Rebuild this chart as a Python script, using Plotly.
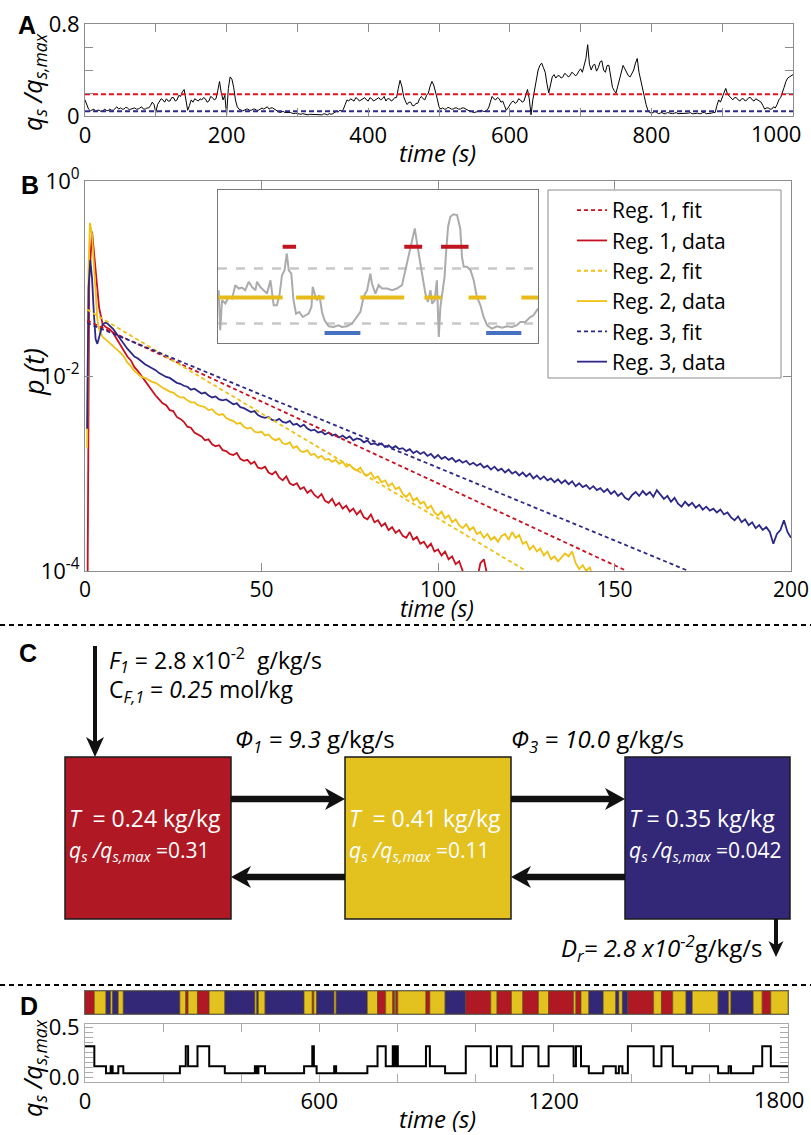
import plotly.graph_objects as go

W, H = 811, 1135
FONT = "Open Sans"

# ---------------- Panel A : q_s/q_s,max time series (2.5 s samples) ----------------
a_dt = 2.5
a_qs = [
    0.14, 0.10, 0.06, 0.045, 0.05, 0.06, 0.04, 0.05, 0.05, 0.04, 0.04, 0.06, 0.05, 0.045, 0.06, 0.05, 0.05, 0.07, 0.08, 0.06,
    0.07, 0.06, 0.06, 0.075, 0.07, 0.055, 0.06, 0.07, 0.07, 0.06, 0.06, 0.07, 0.08, 0.06, 0.06, 0.07, 0.07, 0.09, 0.12, 0.10,
    0.03, 0.10, 0.13, 0.15, 0.14, 0.12, 0.15, 0.13, 0.13, 0.16, 0.16, 0.13, 0.14, 0.18, 0.17, 0.21, 0.23, 0.12, 0.05, 0.09,
    0.14, 0.12, 0.15, 0.14, 0.13, 0.15, 0.14, 0.16, 0.15, 0.12, 0.13, 0.17, 0.16, 0.14, 0.15, 0.22, 0.30, 0.20, 0.14, 0.18,
    0.01, 0.24, 0.34, 0.32, 0.25, 0.14, 0.08, 0.06, 0.05, 0.045, 0.05, 0.06, 0.06, 0.05, 0.05, 0.06, 0.06, 0.05, 0.05, 0.06,
    0.07, 0.06, 0.07, 0.08, 0.06, 0.07, 0.07, 0.06, 0.05, 0.04, 0.03, 0.035, 0.04, 0.03, 0.03, 0.035, 0.03, 0.025, 0.02, 0.025,
    0.02, 0.015, 0.015, 0.02, 0.015, 0.01, 0.01, 0.015, 0.015, 0.01, 0.01, 0.015, 0.015, 0.01, 0.01, 0.02, 0.015, 0.01, 0.02, 0.015,
    0.02, 0.03, 0.04, 0.035, 0.05, 0.04, 0.06, 0.10, 0.14, 0.13, 0.15, 0.14, 0.13, 0.16, 0.15, 0.13, 0.14, 0.15, 0.16, 0.14,
    0.13, 0.16, 0.15, 0.13, 0.14, 0.15, 0.16, 0.14, 0.15, 0.17, 0.13, 0.15, 0.15, 0.13, 0.14, 0.16, 0.16, 0.24, 0.31, 0.26,
    0.17, 0.13, 0.10, 0.12, 0.12, 0.09, 0.09, 0.11, 0.11, 0.15, 0.17, 0.15, 0.14, 0.18, 0.20, 0.26, 0.30, 0.27, 0.22, 0.15,
    0.08, 0.06, 0.07, 0.06, 0.06, 0.075, 0.07, 0.06, 0.06, 0.07, 0.07, 0.06, 0.06, 0.07, 0.07, 0.06, 0.05, 0.045, 0.04, 0.035,
    0.03, 0.035, 0.04, 0.05, 0.05, 0.04, 0.04, 0.05, 0.07, 0.12, 0.17, 0.15, 0.14, 0.16, 0.15, 0.12, 0.13, 0.09, 0.05, 0.07,
    0.10, 0.12, 0.13, 0.11, 0.12, 0.15, 0.14, 0.12, 0.13, 0.18, 0.23, 0.15, 0.01, 0.14, 0.22, 0.32, 0.40, 0.44, 0.46, 0.42,
    0.38, 0.28, 0.20, 0.27, 0.34, 0.36, 0.33, 0.35, 0.35, 0.33, 0.34, 0.37, 0.36, 0.34, 0.35, 0.38, 0.37, 0.35, 0.36, 0.39,
    0.41, 0.38, 0.43, 0.50, 0.62, 0.45, 0.40, 0.44, 0.45, 0.39, 0.42, 0.47, 0.48, 0.40, 0.38, 0.44, 0.44, 0.33, 0.25, 0.22,
    0.20, 0.26, 0.32, 0.40, 0.44, 0.41, 0.38, 0.35, 0.34, 0.37, 0.40, 0.46, 0.50, 0.38, 0.30, 0.24, 0.17, 0.10, 0.05, 0.03,
    0.025, 0.03, 0.04, 0.03, 0.02, 0.025, 0.03, 0.02, 0.02, 0.03, 0.025, 0.02, 0.02, 0.025, 0.03, 0.02, 0.02, 0.025, 0.025, 0.02,
    0.02, 0.025, 0.03, 0.02, 0.02, 0.025, 0.025, 0.02, 0.02, 0.03, 0.03, 0.02, 0.02, 0.025, 0.025, 0.03, 0.03, 0.09, 0.14, 0.12,
    0.16, 0.20, 0.24, 0.19, 0.17, 0.15, 0.14, 0.16, 0.16, 0.14, 0.13, 0.15, 0.15, 0.13, 0.14, 0.16, 0.16, 0.14, 0.13, 0.15,
    0.14, 0.13, 0.12, 0.09, 0.06, 0.07, 0.07, 0.06, 0.06, 0.08, 0.07, 0.10, 0.14, 0.16, 0.20, 0.25, 0.30, 0.33, 0.34, 0.35,
    0.36,
]
a_time = [k * a_dt for k in range(len(a_qs))]
a_threshold_reg1 = 0.19
a_threshold_reg3 = 0.042

# ---------------- Panel B : residence time distributions ----------------
reg_names = ["Reg. 1", "Reg. 2", "Reg. 3"]
b_reg1_t = [0.6, 1.2, 2.0, 2.6, 3.2, 4.0, 5, 6, 7, 8, 9, 10] + list(range(11, 116))
b_reg1_logp = [
    -5.0, -1.0, -0.52, -0.75, -1.05, -1.30, -1.47, -1.50, -1.52, -1.56, -1.62, -1.68,
    -1.74, -1.80, -1.84, -1.91, -1.95, -2.00, -2.06, -2.10, -2.15, -2.20,
    -2.24, -2.28, -2.30, -2.35, -2.36, -2.42, -2.44, -2.47, -2.52, -2.53,
    -2.58, -2.60, -2.62, -2.66, -2.65, -2.70, -2.72, -2.71, -2.76, -2.77,
    -2.80, -2.81, -2.79, -2.85, -2.87, -2.86, -2.90, -2.88, -2.94, -2.95,
    -2.93, -2.99, -3.01, -2.98, -3.04, -3.07, -3.03, -3.10, -3.12, -3.10,
    -3.16, -3.14, -3.20, -3.17, -3.22, -3.25, -3.21, -3.28, -3.30, -3.26,
    -3.33, -3.30, -3.36, -3.33, -3.39, -3.36, -3.42, -3.38, -3.45, -3.47,
    -3.42, -3.50, -3.48, -3.54, -3.51, -3.58, -3.55, -3.61, -3.58, -3.64,
    -3.66, -3.60, -3.68, -3.65, -3.72, -3.70, -3.76, -3.72, -3.80, -3.78,
    -3.84, -3.80, -3.88, -3.85, -3.93, -3.90, -3.99, -4.10, -4.30, -4.20,
    -4.10, -3.92, -3.88, -4.05, -4.30,
]
b_reg2_t = [0.6, 1.0, 1.4, 2.0, 2.5, 3.0, 3.5, 4, 5, 6, 7, 8, 9, 10] + list(range(11, 146))
b_reg2_logp = [
    -2.74, -0.9, -0.43, -0.55, -0.85, -1.2, -1.42, -1.52, -1.60, -1.63, -1.66, -1.69, -1.72, -1.76,
    -1.80, -1.86, -1.90, -1.95, -1.98, -2.01, -2.02, -2.04, -2.06, -2.07,
    -2.10, -2.12, -2.14, -2.16, -2.17, -2.20, -2.22, -2.22, -2.25, -2.27,
    -2.27, -2.30, -2.31, -2.32, -2.35, -2.34, -2.38, -2.40, -2.39, -2.43,
    -2.45, -2.46, -2.49, -2.48, -2.52, -2.54, -2.53, -2.57, -2.58, -2.57,
    -2.61, -2.60, -2.64, -2.66, -2.64, -2.69, -2.70, -2.68, -2.74, -2.72,
    -2.77, -2.78, -2.76, -2.81, -2.80, -2.84, -2.82, -2.86, -2.85, -2.88,
    -2.86, -2.90, -2.88, -2.93, -2.91, -2.95, -2.97, -2.94, -3.00, -3.02,
    -2.99, -3.05, -3.03, -3.09, -3.07, -3.13, -3.10, -3.16, -3.14, -3.21,
    -3.24, -3.20, -3.28, -3.25, -3.31, -3.29, -3.36, -3.33, -3.40, -3.43,
    -3.39, -3.46, -3.43, -3.50, -3.47, -3.53, -3.56, -3.52, -3.58, -3.55,
    -3.62, -3.60, -3.66, -3.62, -3.68, -3.65, -3.70, -3.64, -3.62, -3.68,
    -3.60, -3.66, -3.63, -3.72, -3.70, -3.78, -3.74, -3.80, -3.77, -3.84,
    -3.80, -3.88, -3.85, -3.90, -3.86, -3.82, -3.85, -3.80, -3.92, -3.98,
    -3.94, -4.00, -3.96, -4.10, -4.30,
]
b_reg3_t = [0.6, 1.0, 1.5, 2.0, 2.5, 3.0, 3.5, 4.0, 4.5, 5, 6, 7, 8, 9, 10] + list(range(11, 201))
b_reg3_logp = [
    -2.54, -1.1, -0.81, -1.0, -1.35, -1.62, -1.67, -1.60, -1.52, -1.47, -1.45, -1.48, -1.52, -1.57, -1.62,
    -1.68, -1.72, -1.76, -1.80, -1.82, -1.85, -1.88, -1.90, -1.92, -1.94,
    -1.97, -1.99, -2.01, -2.02, -2.05, -2.07, -2.08, -2.10, -2.11, -2.14,
    -2.13, -2.16, -2.18, -2.17, -2.20, -2.22, -2.21, -2.24, -2.25, -2.24,
    -2.27, -2.29, -2.28, -2.32, -2.33, -2.35, -2.37, -2.36, -2.40, -2.42,
    -2.43, -2.42, -2.45, -2.46, -2.44, -2.47, -2.48, -2.46, -2.50, -2.49,
    -2.52, -2.50, -2.54, -2.56, -2.55, -2.58, -2.57, -2.60, -2.58, -2.61,
    -2.60, -2.63, -2.61, -2.64, -2.62, -2.66, -2.64, -2.65, -2.68, -2.66,
    -2.70, -2.69, -2.71, -2.69, -2.73, -2.71, -2.74, -2.72, -2.75, -2.74,
    -2.77, -2.75, -2.79, -2.77, -2.80, -2.78, -2.82, -2.80, -2.84, -2.81,
    -2.85, -2.83, -2.86, -2.84, -2.88, -2.86, -2.89, -2.87, -2.91, -2.89,
    -2.92, -2.90, -2.94, -2.92, -2.96, -2.93, -2.97, -2.95, -2.99, -2.96,
    -3.00, -2.98, -3.02, -2.99, -3.03, -3.00, -3.05, -3.02, -3.06, -3.03,
    -3.07, -3.05, -3.09, -3.06, -3.10, -3.07, -3.11, -3.08, -3.13, -3.10,
    -3.14, -3.12, -3.16, -3.13, -3.17, -3.15, -3.19, -3.16, -3.21, -3.18,
    -3.23, -3.20, -3.25, -3.27, -3.22, -3.19, -3.23, -3.18, -3.22, -3.19,
    -3.24, -3.17, -3.21, -3.26, -3.23, -3.29, -3.25, -3.31, -3.34, -3.29,
    -3.33, -3.30, -3.35, -3.32, -3.37, -3.34, -3.38, -3.36, -3.40, -3.37,
    -3.42, -3.40, -3.45, -3.48, -3.44, -3.50, -3.47, -3.53, -3.50, -3.56,
    -3.53, -3.58, -3.55, -3.60, -3.72, -3.62, -3.58, -3.48, -3.60, -3.66,
]
# exponential fits: straight lines on the log axis, given by their two end points
b_fit_t = [[0.6, 153.5], [0.6, 125.0], [0.6, 171.0]]
b_fit_p = [[0.037, 1e-4], [0.048, 1e-4], [0.035, 1e-4]]

# inset (excerpt of the q_s signal with regime assignment)
inset_x = [0.2, 0.7, 1.25, 2.3, 3.3, 4.4, 5.4, 6.5, 7.5, 8.5, 9.6, 10.6, 11.7, 12.2, 13.2, 14.3, 15.3,
           16.4, 17.4, 18.4, 19.2, 20.0, 20.8, 21.5, 22.1, 22.9, 23.6, 24.4, 25.4, 26.5, 27.3, 28.3,
           29.2, 29.6, 30.2, 30.9, 31.7, 32.5, 33.3, 34.6, 36.1, 37.7, 38.75, 40.3, 41.9, 43.4, 44.5,
           45.5, 46.6, 47.6, 48.1, 49.2, 50.2, 51.25, 52.8, 54.4, 55.9, 57.5, 58.5, 59.4, 60.1, 60.8,
           61.5, 62.2, 62.9, 63.75, 64.8, 65.6, 66.4, 66.9, 67.7, 68.4, 69.0, 69.5, 70.2, 70.8, 71.25,
           71.9, 72.6, 73.6, 74.7, 75.7, 76.25, 76.8, 77.8, 78.9, 79.9, 80.9, 82.0, 83.0, 84.1, 85.6,
           87.2, 88.75, 90.3, 91.9, 93.4, 94.5, 96.0, 97.6, 98.6, 100.0]
inset_y = [0.345, 0.083, 0.279, 0.258, 0.301, 0.290, 0.378, 0.356, 0.362, 0.345, 0.400, 0.367, 0.345,
           0.400, 0.367, 0.345, 0.323, 0.410, 0.247, 0.247, 0.312, 0.443, 0.476, 0.585, 0.476, 0.454,
           0.279, 0.192, 0.203, 0.170, 0.181, 0.192, 0.236, 0.367, 0.323, 0.279, 0.312, 0.203, 0.148,
           0.109, 0.105, 0.116, 0.105, 0.109, 0.127, 0.170, 0.203, 0.301, 0.345, 0.454, 0.389, 0.323,
           0.378, 0.356, 0.356, 0.345, 0.356, 0.378, 0.476, 0.563, 0.618, 0.683, 0.749, 0.651, 0.563,
           0.443, 0.323, 0.269, 0.345, 0.258, 0.279, 0.410, 0.039, 0.236, 0.345, 0.432, 0.585, 0.760,
           0.825, 0.841, 0.836, 0.749, 0.563, 0.498, 0.498, 0.476, 0.410, 0.301, 0.247, 0.170, 0.116,
           0.094, 0.109, 0.100, 0.109, 0.105, 0.116, 0.138, 0.138, 0.170, 0.181, 0.225]
inset_thresholds = [0.487, 0.127]
inset_level = [0.629, 0.297, 0.066]
inset_segments = [
    [[20.2, 24.4], [58.2, 63.8], [69.7, 78.3]],
    [[0.2, 20.2], [24.4, 33.3], [44.5, 58.2], [64.5, 69.8], [78.3, 83.8], [94.8, 100.0]],
    [[33.3, 44.5], [83.8, 94.8]],
]

# ---------------- Panel C : compartment model ----------------
c_T = ["0.24", "0.41", "0.35"]
c_qs = [0.31, 0.11, 0.042]
c_qs_txt = ["0.31", "0.11", "0.042"]
c_F1 = "2.8 x10<sup>-2</sup>"
c_CF1 = "0.25"
c_phi1 = "9.3"
c_phi3 = "10.0"
c_Dr = "2.8 x10<sup>-2</sup>"

# ---------------- Panel D : regime sequence ----------------
d_starts = [0, 23.9, 53.7, 65.7, 70.8, 85.3, 98.1, 243, 258, 264, 288, 318, 358, 435, 440, 444, 461,
            561, 582, 586, 593, 638, 643, 723, 749, 770, 788, 793, 796, 801, 873, 883, 922, 975, 1039,
            1055, 1092, 1121, 1161, 1187, 1251, 1257, 1270, 1290, 1327, 1359, 1367, 1376, 1390, 1456,
            1476, 1505, 1539, 1555, 1621, 1648, 1654, 1711, 1734, 1756]
d_regime = [1, 2, 3, 2, 3, 2, 3, 2, 1, 2, 1, 2, 3, 2, 3, 2, 3,
            2, 1, 2, 3, 2, 3, 2, 1, 2, 1, 2, 1, 2, 1, 2, 3, 1, 2,
            1, 2, 1, 2, 1, 2, 1, 2, 3, 2, 3, 2, 3, 1, 2,
            1, 2, 3, 2, 3, 2, 3, 2, 1, 2]
d_end = 1800

# ---------------- styling ----------------
line_col = ["#C8101E", "#F0C012", "#2C2888"]
box_col = ["#B01923", "#E3C11F", "#332878"]
inset_seg_col = ["#C0141E", "#E9BB1A", "#4670C0"]
AX = "#8c8c8c"


def X(px):
    return px / W


def Y(py):
    return 1 - py / H


fig = go.Figure()

# ---- A
fig.add_trace(go.Scatter(x=a_time, y=a_qs, mode="lines", line=dict(color="black", width=1),
                         xaxis="x", yaxis="y", showlegend=False, hoverinfo="skip"))
for thr, col in [(a_threshold_reg1, "#E8101C"), (a_threshold_reg3, "#2E2A8C")]:
    fig.add_trace(go.Scatter(x=[a_time[0], a_time[-1]], y=[thr, thr], mode="lines",
                             line=dict(color=col, width=2, dash="5px,3px"),
                             xaxis="x", yaxis="y", showlegend=False, hoverinfo="skip"))

# ---- B data + fits
b_data = [(b_reg1_t, b_reg1_logp), (b_reg2_t, b_reg2_logp), (b_reg3_t, b_reg3_logp)]
for i, (tt, lp) in enumerate(b_data):
    fig.add_trace(go.Scatter(x=tt, y=[10 ** v for v in lp], mode="lines",
                             line=dict(color=line_col[i], width=1.8),
                             name=f"{reg_names[i]}, data", legendgroup=f"d{i}", legendrank=2 * i + 2,
                             xaxis="x2", yaxis="y2", hoverinfo="skip"))
for i in range(3):
    fig.add_trace(go.Scatter(x=b_fit_t[i], y=b_fit_p[i], mode="lines",
                             line=dict(color=line_col[i], width=1.8, dash="4px,3px"),
                             name=f"{reg_names[i]}, fit", legendgroup=f"f{i}", legendrank=2 * i + 1,
                             xaxis="x2", yaxis="y2", hoverinfo="skip"))

# ---- inset
for thr in inset_thresholds:
    fig.add_trace(go.Scatter(x=[0, 100], y=[thr, thr], mode="lines",
                             line=dict(color="#c8c8c8", width=2.5, dash="9px,9px"),
                             xaxis="x3", yaxis="y3", showlegend=False, hoverinfo="skip"))
fig.add_trace(go.Scatter(x=inset_x, y=inset_y, mode="lines", line=dict(color="#ababab", width=2),
                         xaxis="x3", yaxis="y3", showlegend=False, hoverinfo="skip"))
for i in range(3):
    xs, ys = [], []
    for a, b in inset_segments[i]:
        xs += [a, b, None]
        ys += [inset_level[i], inset_level[i], None]
    fig.add_trace(go.Scatter(x=xs, y=ys, mode="lines", line=dict(color=inset_seg_col[i], width=4),
                             xaxis="x3", yaxis="y3", showlegend=False, hoverinfo="skip"))

# ---- D colour bar and step signal
d_bounds = d_starts + [d_end]
d_dur = [d_bounds[k + 1] - d_bounds[k] for k in range(len(d_starts))]
fig.add_trace(go.Bar(x=d_dur, base=d_starts, y=[0] * len(d_starts), orientation="h", width=1,
                     marker=dict(color=[box_col[r - 1] for r in d_regime],
                                 line=dict(color="#5a4a18", width=0.6)),
                     xaxis="x4", yaxis="y4", showlegend=False, hoverinfo="skip"))
d_levels = [c_qs[r - 1] for r in d_regime]
fig.add_trace(go.Scatter(x=d_bounds, y=d_levels + [d_levels[-1]], mode="lines", line_shape="hv",
                         line=dict(color="black", width=2), xaxis="x5", yaxis="y5",
                         showlegend=False, hoverinfo="skip"))

# ---------------- axes ----------------
tickfont = dict(family=FONT, size=22, color="black")
base_ax = dict(showline=True, linecolor=AX, linewidth=1, mirror="ticks", ticks="inside", ticklen=8,
               tickcolor=AX, showgrid=False, zeroline=False, tickfont=tickfont, automargin=False)


def minor(vals, col=AX):
    return dict(tickvals=vals, ticks="inside", ticklen=8, tickcolor=col, showgrid=False)


a_xt = [0, 200, 400, 600, 800]
a_xminor = [100, 300, 500, 700, 900, 1000]
a_yt = [0, 0.8]
a_yminor = [0.2, 0.4, 0.6]
b_xt = [0, 50, 100, 150, 200]
d_xt = [0, 600, 1200]
d_xminor = [200, 400, 800, 1000, 1400, 1600]
d_yt = [0, 0.5]
d_yminor = [0.05, 0.1, 0.15, 0.2, 0.25, 0.3, 0.35, 0.4, 0.45]
LG = "#aaaaaa"

fig.update_layout(
    xaxis=dict(base_ax, domain=[X(85), X(793)], anchor="y", range=[0, 1000], tickvals=a_xt,
               minor=minor(a_xminor)),
    yaxis=dict(base_ax, domain=[Y(116), Y(24)], anchor="x", range=[0, 0.8], tickvals=a_yt,
               ticktext=["0", "0.8"], minor=minor(a_yminor)),
    xaxis2=dict(base_ax, domain=[X(85), X(791)], anchor="y2", range=[0, 200], tickvals=b_xt,
                tickfont=dict(family=FONT, size=21, color="black")),
    yaxis2=dict(base_ax, domain=[Y(571), Y(181)], anchor="x2", type="log", range=[-4, 0],
                tickvals=[1e-4, 1e-2, 1], ticktext=["10<sup>-4</sup>", "10<sup>-2</sup>", "10<sup>0</sup>"]),
    xaxis3=dict(domain=[X(218), X(538)], anchor="y3", range=[0, 100], showline=True, mirror=True,
                linecolor="#777777", showticklabels=False, ticks="", showgrid=False, zeroline=False),
    yaxis3=dict(domain=[Y(343), Y(190)], anchor="x3", range=[0, 1], showline=True, mirror=True,
                linecolor="#777777", showticklabels=False, ticks="", showgrid=False, zeroline=False),
    xaxis4=dict(domain=[X(85), X(788)], anchor="y4", range=[0, 1800], showline=True, mirror=True,
                linecolor="#666666", showticklabels=False, ticks="", showgrid=False, zeroline=False),
    yaxis4=dict(domain=[Y(1014), Y(991)], anchor="x4", range=[-0.5, 0.5], showline=True, mirror=True,
                linecolor="#666666", showticklabels=False, ticks="", showgrid=False, zeroline=False),
    xaxis5=dict(base_ax, domain=[X(85), X(788)], anchor="y5", range=[0, 1800], tickvals=d_xt,
                linecolor=LG, tickcolor=LG, minor=minor(d_xminor, LG)),
    yaxis5=dict(base_ax, domain=[Y(1082), Y(1024)], anchor="x5", range=[-0.045, 0.53], tickvals=d_yt,
                ticktext=["0.0", "0.5"], linecolor=LG, tickcolor=LG, minor=minor(d_yminor, LG)),
)

# ---------------- annotations ----------------
ann = []


def text(s, x, y, size=21, xa="left", ya="middle", color="black", angle=0, family=FONT):
    ann.append(dict(text=s, x=X(x), y=Y(y), xref="paper", yref="paper", xanchor=xa, yanchor=ya,
                    showarrow=False, textangle=angle, font=dict(family=family, size=size, color=color)))


for lab, (lx, ly) in zip("ABCD", [(27, 25), (30, 185), (28, 653), (29, 1006)]):
    text(f"<b>{lab}</b>", lx, ly, size=25, xa="center", family="Liberation Sans")

# right-most tick labels (kept inside the page, as in the reference)
text("1000", 803, 133, size=22, xa="right")
text("1800", 806, 1099, size=22, xa="right")

qlab = "<i>q<sub>s</sub> /q<sub>s,max</sub></i>"
text(qlab, 34, 82, size=25, xa="center", angle=-90)
text(qlab, 33, 1068, size=25, xa="center", angle=-90)
text("<i>p (t)</i>", 33, 372, size=27, xa="center", angle=-90)
text("<i>time (s)</i>", 437, 153, size=24, xa="center")
text("<i>time (s)</i>", 437, 608, size=23, xa="center")
text("<i>time (s)</i>", 437, 1118, size=24, xa="center")

text(f"<i>F<sub>1</sub></i> = {c_F1}  g/kg/s", 107, 660, size=23)
text(f"C<sub><i>F,1</i></sub> = <i>{c_CF1}</i> mol/kg", 107, 690, size=23)
text(f"<i>Φ<sub>1</sub> = {c_phi1}</i> g/kg/s", 233, 740, size=24)
text(f"<i>Φ<sub>3</sub> = {c_phi3}</i> g/kg/s", 509, 740, size=24)
box_x = [(65, 231), (345, 511), (625, 790)]
for i, (x0, x1) in enumerate(box_x):
    sp = "\u00a0 " if i < 2 else " "
    text(f"<i>T</i>{sp}= {c_T[i]} kg/kg", x0 + 2, 818, size=23, color="white")
    text(f"{qlab} ={c_qs_txt[i]}", x0 + 2, 851, size=21, color="white")
text(f"<i>D<sub>r</sub>= {c_Dr}</i>g/kg/s", 765, 948, size=24, xa="right")

# ---------------- shapes (diagram, legend frame, separators) ----------------
shapes = []
for i, (x0, x1) in enumerate(box_x):
    shapes.append(dict(type="rect", xref="paper", yref="paper", x0=X(x0), x1=X(x1), y0=Y(919), y1=Y(757),
                       fillcolor=box_col[i], line=dict(color="#1a1a1a", width=1.5), layer="below"))

shapes.append(dict(type="rect", xref="paper", yref="paper", x0=X(548), x1=X(781), y0=Y(378), y1=Y(190),
                   fillcolor="white", line=dict(color=AX, width=1), layer="below"))


def arrow(x0, y0, x1, y1, sw, hl, hw):
    dx, dy = x1 - x0, y1 - y0
    L = (dx * dx + dy * dy) ** 0.5
    ux, uy = dx / L, dy / L
    px_, py_ = -uy, ux
    sx, sy = x1 - ux * hl * 0.7, y1 - uy * hl * 0.7
    pts_shaft = [(x0 + px_ * sw / 2, y0 + py_ * sw / 2), (sx + px_ * sw / 2, sy + py_ * sw / 2),
                 (sx - px_ * sw / 2, sy - py_ * sw / 2), (x0 - px_ * sw / 2, y0 - py_ * sw / 2)]
    bx, by = x1 - ux * hl, y1 - uy * hl
    pts_head = [(x1, y1), (bx + px_ * hw / 2, by + py_ * hw / 2), (x1 - ux * hl * 0.72, y1 - uy * hl * 0.72),
                (bx - px_ * hw / 2, by - py_ * hw / 2)]
    for pts in (pts_shaft, pts_head):
        path = "M " + " L ".join(f"{X(a):.5f},{Y(b):.5f}" for a, b in pts) + " Z"
        shapes.append(dict(type="path", xref="paper", yref="paper", path=path,
                           fillcolor="#111111", line=dict(width=0)))


arrow(95, 646, 95, 757, 4, 20, 18)
arrow(231, 799, 345, 799, 6.5, 20, 22)
arrow(511, 799, 625, 799, 6.5, 20, 22)
arrow(345, 877, 231, 877, 6.5, 20, 22)
arrow(625, 877, 511, 877, 6.5, 20, 22)
arrow(776, 919, 776, 957, 4, 16, 15)

for sy in [625, 985]:
    shapes.append(dict(type="line", xref="paper", yref="paper", x0=0, x1=1, y0=Y(sy), y1=Y(sy),
                       line=dict(color="black", width=2, dash="5px,4px")))

fig.update_layout(
    width=W, height=H, autosize=False,
    margin=dict(l=0, r=0, t=0, b=0),
    paper_bgcolor="white", plot_bgcolor="white",
    font=dict(family=FONT, color="black"),
    annotations=ann, shapes=shapes,
    hovermode=False,
    legend=dict(x=X(572), y=Y(190), xanchor="left", yanchor="top", bgcolor="rgba(0,0,0,0)",
                borderwidth=0, font=dict(family=FONT, size=21, color="black"),
                tracegroupgap=0),
)

fig.write_html("out.html", config={"displayModeBar": False},
               post_script="document.body.style.margin='0';")
